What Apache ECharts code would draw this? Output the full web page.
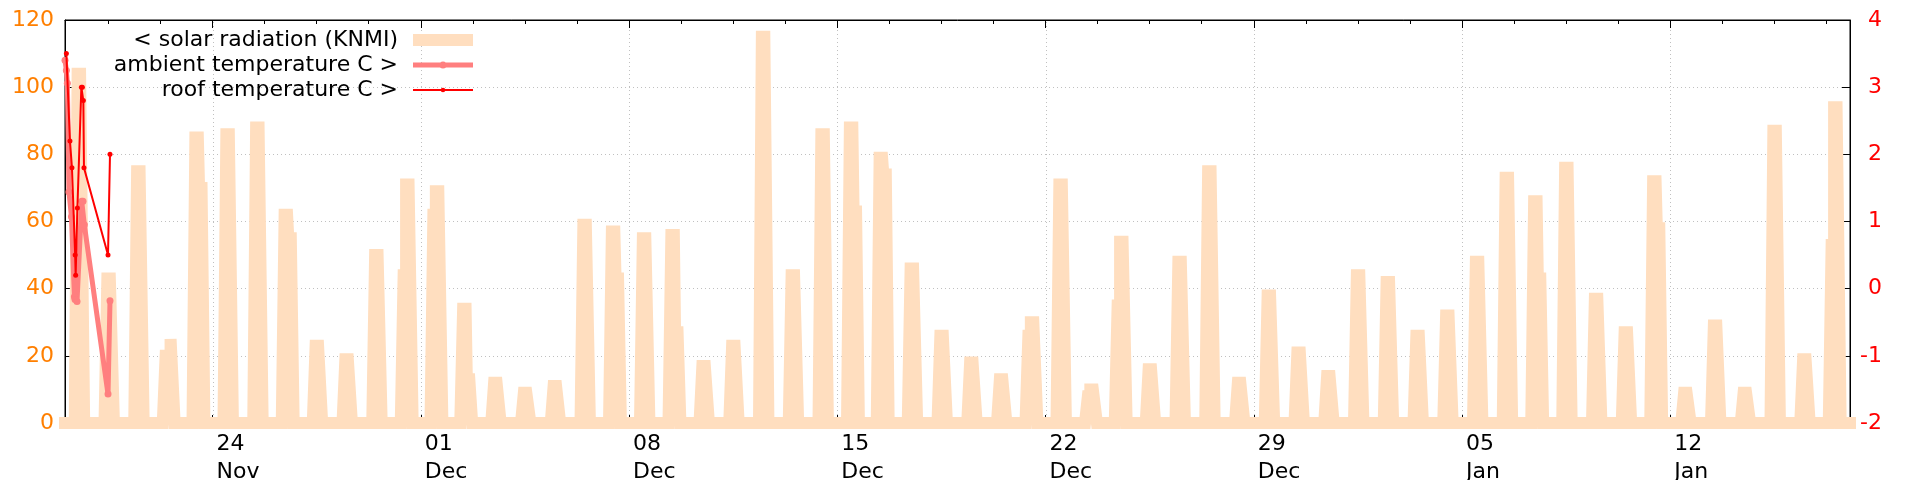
<!DOCTYPE html>
<html>
<head>
<meta charset="utf-8">
<script src="https://cdn.jsdelivr.net/npm/echarts@6/dist/echarts.min.js"></script>
<style>
html,body{margin:0;padding:0;background:#fff;}
#chart{width:1920px;height:480px;}
</style>
</head>
<body>
<div id="chart"></div>
<script>
// ---------------- data ----------------
const axisStart = Date.UTC(2023, 10, 19, 1, 0);   // 19 Nov 01:00
const axisEnd   = Date.UTC(2024, 0, 18, 1, 0);    // 18 Jan 01:00
const solarFirstDay = Date.UTC(2023, 10, 19);     // first day of daily solar blocks

// solar radiation (KNMI) per day: a single value, or a list of hourly plateau levels
const solarLevels = [
  104, 43, 75, [20, 20, 20, 20, 25], [85, 85, 85, 70, 70], 86, 88, [62, 62, 62, 55, 55], 23, 19,
  50, [44, 44, 71, 71, 71], [62, 62, 69, 69, 69], [34, 34, 34, 13, 13], 12, 9, 11, 59, [57, 57, 57, 43, 43], 55,
  [56, 56, 56, 27, 27], 17, 23, 115, 44, 86, [88, 88, 88, 63, 63], [79, 79, 79, 74, 74], 46, 26,
  18, 13, [26, 26, 30, 30, 30], 71, [8, 8, 10, 10, 10], [35, 35, 54, 54, 54], 16, 48, 75, 12,
  38, 21, 14, 44, 42, 26, 32, 48, 73, [66, 66, 66, 43, 43],
  76, 37, 27, [72, 72, 72, 58, 58], 9, 29, 9, 87, 19, [53, 53, 94, 94, 94]
];

// temperatures: hours after 19 Nov 00:00, values in C
const ambientHours = [1.0, 2.1, 2.9, 4.2, 6.2, 8.6, 9.1, 10.7, 14.5, 15.5, 16.6, 35.7, 37.3];
const ambientTemp  = [3.40, 3.25, 3.06, 1.44, 1.07, -0.12, -0.16, -0.19, 1.30, 1.30, 0.95, -1.57, -0.18];
const roofHours = [2.1, 5.0, 6.6, 9.2, 9.6, 11.0, 14.2, 15.0, 15.8, 16.3, 35.7, 37.3];
const roofTemp  = [3.50, 2.20, 1.80, 0.50, 0.20, 1.20, 3.00, 3.00, 2.80, 1.80, 0.50, 2.00];

// tick labels (weekly)
const weekTickDays = [
  Date.UTC(2023, 10, 24), Date.UTC(2023, 11, 1), Date.UTC(2023, 11, 8), Date.UTC(2023, 11, 15),
  Date.UTC(2023, 11, 22), Date.UTC(2023, 11, 29), Date.UTC(2024, 0, 5), Date.UTC(2024, 0, 12)
];
const monthNames = ['Jan','Feb','Mar','Apr','May','Jun','Jul','Aug','Sep','Oct','Nov','Dec'];
const seriesNames = ['< solar radiation (KNMI)', 'ambient temperature C >', 'roof temperature C >'];

// ---------------- build ----------------
const HOUR = 3600e3, DAY = 24 * HOUR;
const noon = 12 + 40/60, riseTime = 2.3;

const solarData = [[axisStart, 0]];
solarLevels.forEach((item, d) => {
  const lv = Array.isArray(item) ? item : [item, item, item];
  const base = solarFirstDay + d * DAY;
  const n = lv.length;
  const flatStart = noon - n / 2;
  solarData.push([base + (flatStart - riseTime) * HOUR, 0]);
  lv.forEach((v, k) => {
    solarData.push([base + (flatStart + k) * HOUR, v]);
    solarData.push([base + (flatStart + k + 1) * HOUR, v]);
  });
  solarData.push([base + (flatStart + n + riseTime) * HOUR, 0]);
});
solarData.push([axisEnd, 0]);

const ambientData = ambientHours.map((h, i) => [solarFirstDay + h * HOUR, ambientTemp[i]]);
const roofData = roofHours.map((h, i) => [solarFirstDay + h * HOUR, roofTemp[i]]);

const minorStep = 42 * HOUR;
const minorTicks = [];
for (let k = -10; k < 60; k++) {
  if (k % 4 === 0) continue;
  const t = weekTickDays[0] + k * minorStep;
  if (t > axisStart && t < axisEnd) minorTicks.push(t);
}

const FONT = 'DejaVu Sans';
const fmtDate = v => {
  const d = new Date(v);
  return String(d.getUTCDate()).padStart(2, '0') + '\n' + monthNames[d.getUTCMonth()];
};

const blackLine = { color: '#000', width: 1 };
const gridDots = { color: '#c0c0c0', width: 1, type: [1, 3] };
function xAxisDef(position, showLine, tickLen, ticks, withLabels) {
  return {
    type: 'value', min: axisStart, max: axisEnd, gridIndex: 0, position: position,
    axisLine: { show: showLine, onZero: false, lineStyle: blackLine },
    axisTick: { show: true, inside: true, length: tickLen, customValues: ticks, lineStyle: blackLine },
    axisLabel: withLabels ? { show: true, customValues: weekTickDays, formatter: fmtDate, align: 'left', margin: 7,
        fontFamily: FONT, fontSize: 22, lineHeight: 28, color: '#000', padding: [0, 0, 0, 4] } : { show: false },
    splitLine: { show: false },
    minorTick: { show: false },
    minorSplitLine: { show: false },
    splitArea: { show: false }
  };
}

const chart = echarts.init(document.getElementById('chart'), null, { renderer: 'canvas' });
chart.setOption({
  animation: false,
  backgroundColor: '#fff',
  grid: { left: 65, right: 70, top: 20, bottom: 57, show: true, borderColor: '#000', borderWidth: 1,
          containLabel: false, outerBoundsMode: 'none' },
  legend: {
    orient: 'vertical', align: 'right', right: 1442, top: 24,
    itemWidth: 60, itemHeight: 12, itemGap: 3, padding: 5, selectedMode: false,
    textStyle: { fontFamily: FONT, fontSize: 22, color: '#000', padding: [0, 10, 0, 0] },
    data: [
      { name: seriesNames[0], icon: 'rect', itemStyle: { borderWidth: 0 } },
      { name: seriesNames[1], icon: 'path://M0,0M60,12M0,3.5L60,3.5L60,8.5L0,8.5ZM33.6,6A3.6,3.6,0,1,1,26.4,6A3.6,3.6,0,1,1,33.6,6Z', itemStyle: { borderWidth: 0 } },
      { name: seriesNames[2], icon: 'path://M0,0M60,12M0,5L60,5L60,7L0,7ZM32.3,6A2.3,2.3,0,1,1,27.7,6A2.3,2.3,0,1,1,32.3,6Z', itemStyle: { borderWidth: 0 } }
    ]
  },
  xAxis: [
    xAxisDef('bottom', true, 8, weekTickDays, true),
    xAxisDef('bottom', false, 4, minorTicks, false),
    xAxisDef('top', true, 8, weekTickDays, false),
    xAxisDef('top', false, 4, minorTicks, false)
  ],
  yAxis: [
    {
      type: 'value', position: 'left', min: 0, max: 120, interval: 20,
      axisLine: { show: true, onZero: false, lineStyle: blackLine },
      axisTick: { show: true, inside: true, length: 8, lineStyle: blackLine },
      axisLabel: { fontFamily: FONT, fontSize: 22, color: '#ff7f00', margin: 11 },
      splitLine: { show: true, lineStyle: gridDots }
    },
    {
      type: 'value', position: 'right', min: -2, max: 4, interval: 1,
      axisLine: { show: true, onZero: false, lineStyle: blackLine },
      axisTick: { show: true, inside: true, length: 8, lineStyle: blackLine },
      axisLabel: { fontFamily: FONT, fontSize: 22, color: '#ff0000', margin: 32, align: 'right' },
      splitLine: { show: false }
    }
  ],
  series: [
    {
      name: 'weekgrid', type: 'custom', xAxisIndex: 0, yAxisIndex: 0, z: 0, silent: true, clip: false,
      data: weekTickDays.map(t => [t, 0]),
      encode: { x: 0, y: 1 },
      renderItem: (params, api) => {
        const t = api.value(0);
        const p0 = api.coord([t, 0]), p1 = api.coord([t, 120]);
        const x = Math.round(p0[0]) + 0.5;
        return { type: 'line', silent: true,
          shape: { x1: x, y1: p0[1], x2: x, y2: p1[1] },
          style: { stroke: '#c0c0c0', lineWidth: 1, lineDash: [1, 3] } };
      }
    },
    {
      name: seriesNames[0], type: 'line', data: solarData, xAxisIndex: 0, yAxisIndex: 0,
      showSymbol: false, clip: false, z: 1, color: '#ffdebf',
      lineStyle: { color: '#ffdebf', width: 12, join: 'miter', cap: 'square' }
    },
    {
      name: seriesNames[1], type: 'line', data: ambientData, xAxisIndex: 0, yAxisIndex: 1,
      showSymbol: true, showAllSymbol: true, symbol: 'circle', symbolSize: 7, clip: false, z: 3, color: '#ff7f7f',
      itemStyle: { color: '#ff7f7f', borderWidth: 0 },
      lineStyle: { color: '#ff7f7f', width: 5 }
    },
    {
      name: seriesNames[2], type: 'line', data: roofData, xAxisIndex: 0, yAxisIndex: 1,
      showSymbol: true, showAllSymbol: true, symbol: 'circle', symbolSize: 5, clip: false, z: 4, color: '#ff0000',
      itemStyle: { color: '#ff0000', borderWidth: 0 },
      lineStyle: { color: '#ff0000', width: 2 }
    }
  ]
});
</script>
</body>
</html>
